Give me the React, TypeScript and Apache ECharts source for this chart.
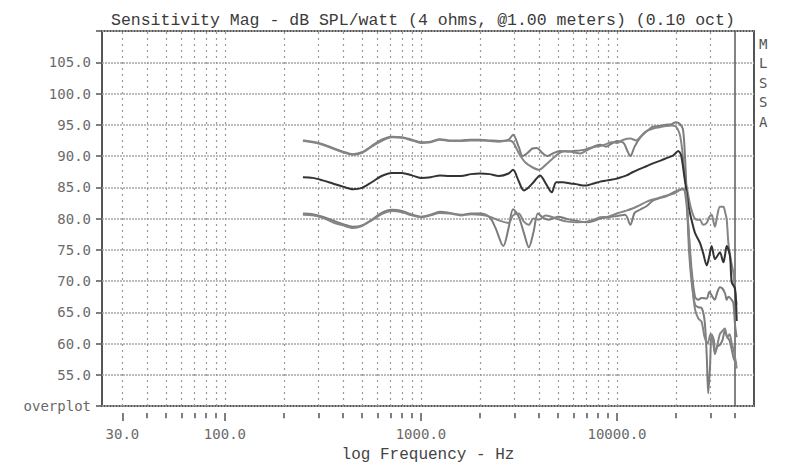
import React, { useEffect, useRef } from "react";
import * as echarts from "echarts";

// Axis ranges
const X_MIN = 23.6;
const X_MAX = 50000;
const Y_MIN = 50;
const Y_MAX = 110;
const Y_STEP = 5;

// Frequency grid (dotted), solid marker line and labelled decades
const gridFreqs = [
  30, 40, 50, 60, 70, 80, 90, 100, 200, 300, 400, 500, 600, 700, 800, 900, 1000, 2000, 3000, 4000,
  5000, 6000, 7000, 8000, 9000, 10000, 20000, 30000,
];
const solidFreq = 40000;
const labelFreqs = [30, 100, 1000, 10000];

// Shared low/mid band points
const lfFreq = [250, 280, 315, 355, 400, 450, 500, 560, 630, 710, 800, 900, 1000, 1120, 1250, 1400, 1600, 1800, 2000, 2240, 2500, 2800];

// Upper pair
const topALevelLf = [92.5, 92.3, 91.9, 91.3, 90.7, 90.3, 90.6, 91.6, 92.6, 93.1, 93.0, 92.6, 92.2, 92.3, 92.7, 92.5, 92.5, 92.6, 92.6, 92.5, 92.4, 92.6];
const topAFreqHf = [2950, 3150, 3300, 3500, 3700, 3900, 4150, 4400, 4700, 5100, 5600, 6000, 6500, 7000, 7600, 8200, 8800, 9400, 10000, 10800, 11300, 11700, 12300, 13100, 14000, 15300, 16500, 17800, 19000, 20000, 20800, 21700, 22300, 22800, 23300, 24000, 25000, 26000, 27000, 28000, 28700, 29200, 29800, 30400, 31200, 31600, 32500, 33500, 34500, 35500, 36500, 37500, 38500, 39500, 40800];
const topALevelHf = [93.4, 91.5, 90.0, 90.5, 91.2, 91.3, 90.5, 90.0, 90.4, 90.8, 90.7, 90.8, 90.9, 91.1, 91.5, 91.8, 91.5, 92.0, 92.4, 92.1, 90.8, 90.0, 91.5, 92.9, 93.8, 94.7, 94.8, 95.0, 95.1, 95.4, 95.2, 94.3, 89.0, 82.0, 75.0, 70.0, 66.2, 65.8, 65.7, 63.6, 58.0, 52.0, 56.0, 61.5, 60.5, 58.3, 59.5, 59.8, 60.5, 62.0, 61.0, 60.5, 59.0, 57.5, 56.8];

const topBLevelLf = [92.4, 92.2, 91.8, 91.2, 90.6, 90.2, 90.5, 91.5, 92.4, 93.0, 92.9, 92.5, 92.1, 92.2, 92.6, 92.4, 92.4, 92.5, 92.5, 92.4, 92.3, 92.5];
const topBFreqHf = [2950, 3150, 3400, 3700, 4000, 4300, 4700, 5100, 5500, 6000, 6500, 7000, 7600, 8200, 8800, 9400, 10000, 10800, 11700, 12500, 13300, 14000, 15300, 16500, 17800, 19000, 20000, 20900, 21600, 22300, 22700, 23500, 24500, 25500, 26500, 27500, 28700, 29500, 30400, 31000, 31600, 32500, 33500, 34900, 35600, 36300, 37000, 38000, 39200, 40000, 40800];
const topBLevelHf = [92.2, 90.5, 89.0, 88.2, 87.8, 88.5, 89.6, 90.5, 90.8, 90.6, 90.4, 90.9, 91.4, 91.6, 91.9, 92.2, 92.1, 92.6, 92.8, 92.5, 93.2, 93.9, 94.4, 94.6, 94.8, 94.9, 94.7, 93.5, 90.5, 86.0, 85.0, 82.5, 80.5, 79.8, 79.8, 79.0, 79.3, 80.2, 80.6, 79.6, 78.7, 80.5, 81.9, 81.9, 81.0, 79.8, 76.1, 73.5, 71.4, 68.5, 66.2];

// Middle trace
const midLevelLf = [86.6, 86.5, 86.1, 85.6, 85.1, 84.7, 84.9, 85.8, 86.8, 87.3, 87.3, 86.9, 86.5, 86.6, 86.9, 86.8, 86.8, 87.1, 87.2, 87.1, 86.8, 87.2];
const midFreqHf = [2950, 3150, 3350, 3550, 3750, 4050, 4350, 4650, 4900, 5300, 5800, 6200, 6700, 7000, 7600, 8200, 8900, 9700, 10500, 11200, 12000, 13000, 14200, 15500, 16800, 18000, 19400, 20500, 21200, 22000, 22700, 23200, 24000, 25000, 26500, 27500, 28700, 29500, 30400, 31600, 32500, 33500, 34900, 35600, 36300, 37700, 38500, 40000, 40800];
const midLevelHf = [87.8, 86.0, 84.5, 85.0, 85.8, 86.9, 85.5, 84.2, 85.8, 85.8, 85.6, 85.5, 85.3, 85.3, 85.6, 85.9, 86.1, 86.3, 86.6, 86.9, 87.4, 87.9, 88.4, 88.9, 89.3, 89.7, 90.1, 90.8, 90.2, 87.0, 84.0, 81.9, 79.8, 77.7, 76.1, 74.5, 72.5, 73.8, 75.6, 73.5, 74.0, 74.6, 73.0, 74.2, 75.6, 74.0, 69.8, 68.8, 63.6];

// Lower pair
const lowAFreq = [250, 280, 315, 355, 400, 450, 500, 560, 630, 710, 800, 900, 1000, 1120, 1250, 1400, 1600, 1800, 2000, 2240, 2400, 2630, 2800, 2950, 3150, 3350, 3550, 3750, 3950, 4200, 4500, 5000, 5600, 6300, 7000, 7600, 8200, 9000, 10000, 11000, 11700, 12300, 13100, 14200, 15300, 16700, 18000, 19500, 21000, 21800, 22500, 23200, 24000, 25000, 26000, 27000, 28700, 29600, 30400, 31500, 32500, 33500, 34500, 35600, 36300, 37000, 38000, 39200, 40000, 40800];
const lowALevel = [80.8, 80.7, 80.3, 79.7, 79.1, 78.7, 78.9, 79.8, 80.9, 81.4, 81.2, 80.6, 80.3, 80.6, 81.1, 80.9, 80.6, 80.8, 80.8, 80.2, 78.5, 75.6, 78.5, 81.5, 80.3, 77.7, 75.4, 77.8, 80.8, 80.1, 79.8, 80.3, 79.9, 79.6, 79.4, 79.6, 80.0, 80.2, 80.4, 80.6, 79.0, 80.9, 81.4, 82.0, 82.9, 83.3, 83.6, 84.2, 84.6, 84.8, 83.0, 78.0, 72.0, 67.5, 67.0, 67.3, 67.2, 68.3, 67.7, 67.0, 68.2, 69.0, 68.8, 68.0, 67.0, 67.5, 67.2, 66.5, 63.0, 61.0];

const lowBFreq = [250, 280, 315, 355, 400, 450, 500, 560, 630, 710, 800, 900, 1000, 1120, 1250, 1400, 1600, 1800, 2000, 2240, 2500, 2800, 2950, 3150, 3350, 3550, 3750, 4000, 4300, 4700, 5100, 5600, 6300, 7000, 7600, 8200, 9000, 10000, 11000, 12000, 13000, 14200, 15500, 16800, 18000, 19500, 20500, 21500, 22400, 23000, 23600, 24300, 25000, 26000, 27000, 28000, 29000, 30000, 30800, 31600, 32500, 33500, 34500, 35500, 36500, 37500, 38500, 39500, 40800];
const lowBLevel = [80.6, 80.5, 80.1, 79.4, 78.9, 78.5, 78.8, 79.7, 80.7, 81.2, 81.0, 80.5, 80.2, 80.5, 80.9, 80.8, 80.5, 80.7, 80.6, 80.3, 79.7, 79.3, 80.5, 80.8, 79.5, 79.0, 80.0, 79.8, 80.5, 80.2, 79.8, 79.5, 79.4, 79.5, 79.8, 80.2, 80.3, 80.8, 81.2, 81.6, 82.1, 82.7, 83.1, 83.4, 83.7, 84.0, 84.4, 84.7, 84.3, 80.0, 74.0, 69.0, 65.5, 64.0, 63.5, 61.0, 60.0, 61.5, 60.5, 58.5, 59.8, 61.5, 62.0, 62.4, 61.0, 61.5, 60.0, 58.8, 56.0];

const pairs = (fs: number[], vs: number[]) => fs.map((f, i) => [f, vs[i]]);

const traces = [
  { name: "top A", data: pairs([...lfFreq, ...topAFreqHf], [...topALevelLf, ...topALevelHf]), color: "#7c7c7c" },
  { name: "top B", data: pairs([...lfFreq, ...topBFreqHf], [...topBLevelLf, ...topBLevelHf]), color: "#858585" },
  { name: "mid", data: pairs([...lfFreq, ...midFreqHf], [...midLevelLf, ...midLevelHf]), color: "#333333" },
  { name: "low A", data: pairs(lowAFreq, lowALevel), color: "#7c7c7c" },
  { name: "low B", data: pairs(lowBFreq, lowBLevel), color: "#858585" },
];

const MONO = "'DejaVu Sans Mono', 'Liberation Mono', monospace";

export default function App() {
  const ref = useRef<HTMLDivElement>(null);

  useEffect(() => {
    if (!ref.current) return;
    const chart = echarts.init(ref.current, undefined, { renderer: "svg" });

    const gridLineData: any[] = gridFreqs.map((f) => [
      { coord: [f, Y_MIN] },
      { coord: [f, Y_MAX], lineStyle: { type: [2, 4], color: "#9a9a9a", width: 1.2 } },
    ]);
    gridLineData.push([
      { coord: [solidFreq, Y_MIN] },
      { coord: [solidFreq, Y_MAX], lineStyle: { type: "solid", color: "#5a5a5a", width: 1.5 } },
    ]);

    const tickData: any[] = [...gridFreqs, solidFreq].map((f) => {
      const major = labelFreqs.includes(f);
      return [
        { coord: [f, 1] },
        {
          coord: [f, major ? 0 : 0.35],
          label: major
            ? { show: true, position: "end", distance: 6, formatter: f.toFixed(1) }
            : { show: false },
        },
      ];
    });

    const option: any = {
      animation: false,
      title: {
        text: "Sensitivity Mag - dB SPL/watt (4 ohms, @1.00 meters) (0.10 oct)",
        left: 106,
        top: 7,
        textStyle: { fontFamily: "'Liberation Mono', monospace", fontSize: 16.5, fontWeight: "normal", color: "#3a3a3a" },
      },
      grid: [
        { left: 102, right: 33, top: 31, bottom: 55, show: true, borderColor: "#555", borderWidth: 2, backgroundColor: "transparent" },
        { left: 102, right: 33, top: 413, height: 8, show: false },
      ],
      xAxis: [
        {
          type: "log",
          gridIndex: 0,
          min: X_MIN,
          max: X_MAX,
          axisLine: { show: false },
          axisTick: { show: false },
          axisLabel: { show: false },
          splitLine: { show: false },
          name: "log Frequency - Hz",
          nameLocation: "middle",
          nameGap: 41,
          nameTextStyle: { fontFamily: "'Liberation Mono', monospace", fontSize: 16, color: "#444" },
        },
        {
          type: "log",
          gridIndex: 1,
          min: X_MIN,
          max: X_MAX,
          axisLine: { show: false },
          axisTick: { show: false },
          axisLabel: { show: false },
          splitLine: { show: false },
        },
      ],
      yAxis: [
        {
          type: "value",
          gridIndex: 0,
          min: Y_MIN,
          max: Y_MAX,
          interval: Y_STEP,
          axisLine: { show: false },
          axisTick: { show: true, length: 6, lineStyle: { color: "#555", width: 1.5 } },
          axisLabel: {
            margin: 11,
            fontFamily: MONO,
            fontSize: 14,
            color: "#6a6a6a",
            formatter: (v: number) => (v === Y_MIN ? "overplot" : v === Y_MAX ? "" : v.toFixed(1)),
          },
          splitLine: { show: true, lineStyle: { color: "#a8a8a8", width: 1.6, type: [2, 1] } },
        },
        { type: "value", gridIndex: 1, min: 0, max: 1, show: false },
      ],
      graphic: [
        {
          type: "text",
          left: 759,
          top: 34,
          style: {
            text: "M\nL\nS\nS\nA",
            font: "14px 'DejaVu Sans Mono', monospace",
            lineHeight: 19.5,
            fill: "#555",
          },
        },
      ],
      series: [
        {
          type: "line",
          name: "frequency grid",
          xAxisIndex: 0,
          yAxisIndex: 0,
          data: [],
          silent: true,
          markLine: {
            silent: true,
            symbol: ["none", "none"],
            z: 1,
            label: { show: false },
            lineStyle: { type: [2, 4], color: "#9a9a9a", width: 1.2 },
            data: gridLineData,
          },
        },
        {
          type: "line",
          name: "frequency ticks",
          xAxisIndex: 1,
          yAxisIndex: 1,
          data: [],
          silent: true,
          markLine: {
            silent: true,
            symbol: ["none", "none"],
            label: { show: false, fontFamily: MONO, fontSize: 14, color: "#6a6a6a" },
            lineStyle: { type: "solid", color: "#555", width: 1.5 },
            data: tickData,
          },
        },
        ...traces.map((t) => ({
          type: "line",
          name: t.name,
          xAxisIndex: 0,
          yAxisIndex: 0,
          data: t.data,
          showSymbol: false,
          smooth: 0.3,
          z: 3,
          lineStyle: { color: t.color, width: 2 },
        })),
      ],
    };

    chart.setOption(option);
    return () => chart.dispose();
  }, []);

  return <div ref={ref} style={{ width: 787, height: 468, position: "absolute", left: 0, top: 0, background: "#fff" }} />;
}
